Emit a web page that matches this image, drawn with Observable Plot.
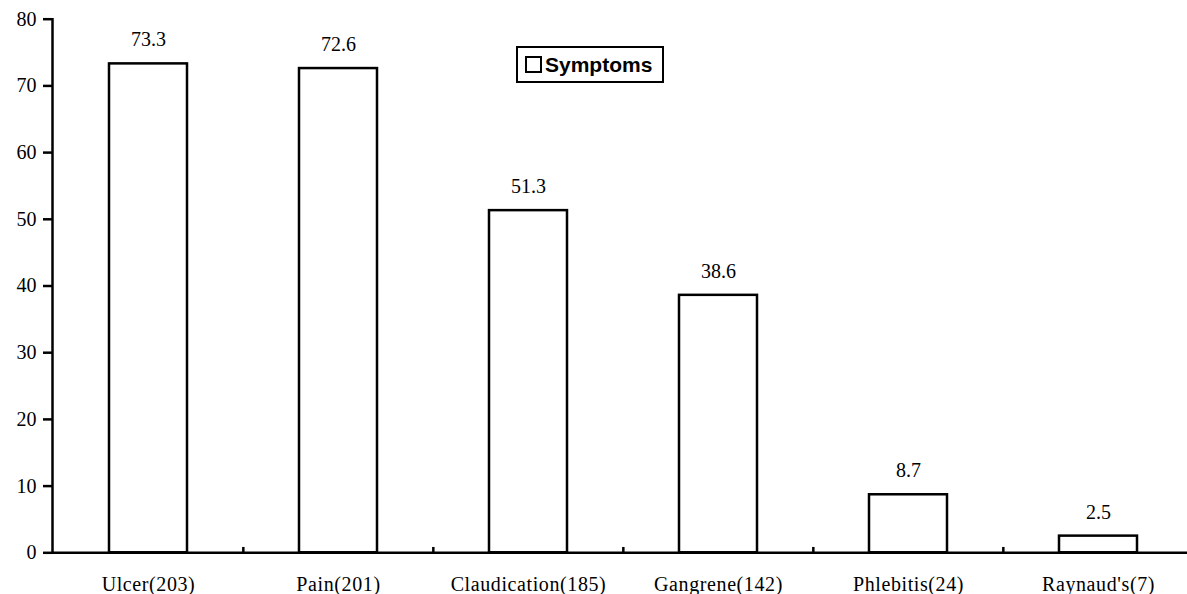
<!DOCTYPE html>
<html>
<head>
<meta charset="utf-8">
<script src="https://cdn.jsdelivr.net/npm/d3@7"></script>
<script src="https://cdn.jsdelivr.net/npm/@observablehq/plot@0.6"></script>
<style>
  html, body { margin: 0; padding: 0; background: #fff; }
  #wrap { position: relative; width: 1187px; height: 594px; overflow: hidden; }
  #legend {
    position: absolute; left: 516px; top: 46px; width: 144px; height: 33px;
    border: 2.5px solid #000; box-sizing: content-box; background: #fff;
    font-family: "Liberation Sans", Arial, sans-serif; font-weight: bold; font-size: 21px;
    display: flex; align-items: center; color: #000;
  }
  #legend .sw { width: 13px; height: 13px; border: 2.5px solid #000; margin-left: 7px; margin-right: 3px; }
  .xlabels text { letter-spacing: 0.6px; }
</style>
</head>
<body>
<div id="wrap">
  <div id="chart"></div>
  <div id="legend"><div class="sw"></div><span id="legendText"></span></div>
</div>
<script>
const categories = ["Ulcer(203)", "Pain(201)", "Claudication(185)", "Gangrene(142)", "Phlebitis(24)", "Raynaud's(7)"];
const values = [73.3, 72.6, 51.3, 38.6, 8.7, 2.5];
const valueLabels = ["73.3", "72.6", "51.3", "38.6", "8.7", "2.5"];
const yTicks = [0, 10, 20, 30, 40, 50, 60, 70, 80];
const seriesName = "Symptoms";

const data = categories.map((c, i) => ({category: c, value: values[i], label: valueLabels[i]}));

const W = 1187, H = 594;
const xRange = [52, 1194];
const step = (xRange[1] - xRange[0]) / categories.length;

const chart = Plot.plot({
  width: W,
  height: H,
  marginLeft: 52,
  marginRight: 0,
  marginTop: 18.7,
  marginBottom: 41.7,
  style: {fontFamily: "'Liberation Serif', 'Times New Roman', serif", fontSize: "20px", color: "#000", background: "#fff", overflow: "visible"},
  x: {domain: categories, range: xRange, paddingInner: 0.59, paddingOuter: 0.295, label: null},
  y: {domain: [0, 80], label: null},
  marks: [
    Plot.barY(data, {x: "category", y: "value", fill: "#fff", stroke: "#000", strokeWidth: 2.5}),
    Plot.text(data, {x: "category", y: "value", text: "label", dy: -24, fontSize: 20, fill: "#000"}),
    Plot.ruleX(categories.slice(1), {x: d => d, dx: -step / 2, y1: 0, y2: 0.8, stroke: "#000", strokeWidth: 2.5}),
    Plot.axisY({ticks: yTicks, tickSize: 9, tickPadding: 7, strokeWidth: 2.5, fontSize: 20, label: null}),
    Plot.axisX({tickSize: 0, tickPadding: 24, fontSize: 20, label: null, className: "xlabels"}),
    Plot.frame({anchor: "left", stroke: "#000", strokeWidth: 2.5}),
    Plot.ruleY([0], {stroke: "#000", strokeWidth: 2.5})
  ]
});
document.getElementById("chart").appendChild(chart);
document.getElementById("legendText").textContent = seriesName;
</script>
</body>
</html>
